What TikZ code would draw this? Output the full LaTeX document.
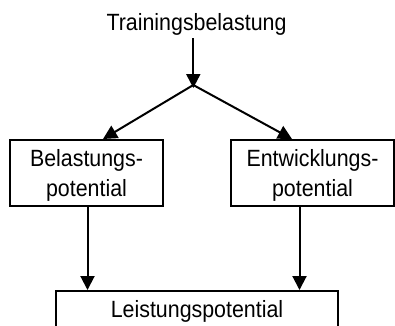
\documentclass[tikz,border=0pt]{standalone}
\usepackage{fontspec}
\setmainfont{Liberation Sans}[FakeStretch=0.91]
\usetikzlibrary{arrows.meta}
\begin{document}
\begin{tikzpicture}[x=1pt,y=-1pt,
  every node/.style={font=\fontsize{23.5}{30}\selectfont},
  box/.style={draw,line width=2pt,inner sep=0pt,align=center},
  arr/.style={line width=2pt,-{Triangle[length=14pt,width=14pt]}}]
\clip (0,0) rectangle (395,325);
\node[anchor=base,inner sep=0pt] (t) at (196.5,30) {Trainingsbelastung};
\coordinate (j) at (193.3,85);
\node[box,minimum width=153pt,minimum height=66pt] (b1) at (86.5,173) {\rule{0pt}{21pt}Belastungs-\\potential};
\node[box,minimum width=163pt,minimum height=66pt] (b2) at (312.5,173) {\rule{0pt}{21pt}Entwicklungs-\\potential};
\node[box,anchor=north,minimum width=282pt,text height=26.7pt,text depth=40pt] (b3) at (197,290) {Leistungspotential};
\draw[arr] ([yshift=-3pt]t.south -| j) -- ([yshift=-3pt]j);
\draw[arr] (j) -- ([xshift=16.5pt]b1.north);
\draw[arr] (j) -- ([xshift=-20.5pt]b2.north);
\draw[arr] ([xshift=1pt]b1.south) -- ([xshift=1pt]b1.south |- b3.north);
\draw[arr] ([xshift=-13pt]b2.south) -- ([xshift=-13pt]b2.south |- b3.north);
\end{tikzpicture}
\end{document}
